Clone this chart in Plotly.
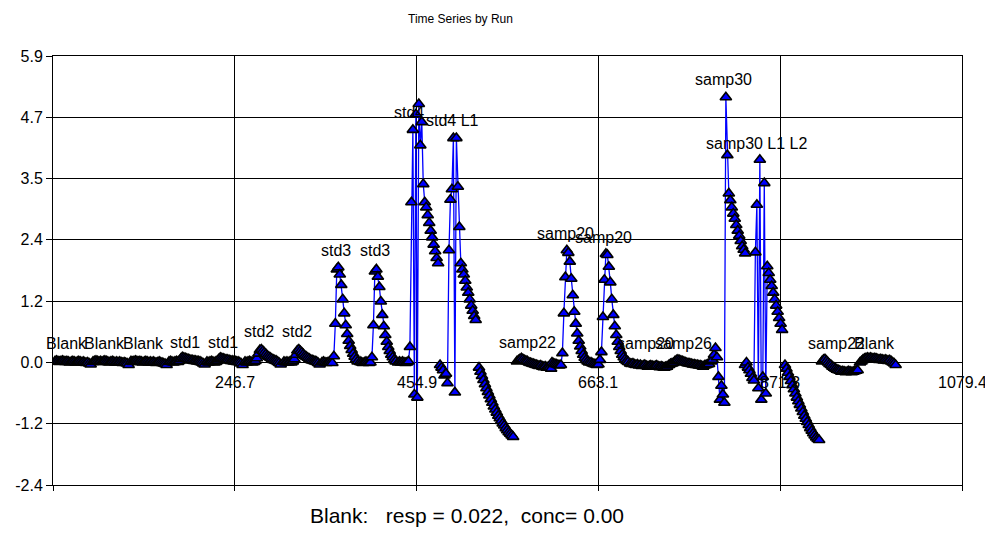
import plotly.graph_objects as go

# ---------------- data ----------------
sample_offsets = [0.0, 1.7, 3.4, 5.1, 6.8, 8.5, 10.2, 11.9, 13.6, 15.3, 17.0, 18.7, 20.4, 22.1,
                  23.8, 25.5, 27.2, 28.9, 30.6, 32.3, 34.0, 35.7, 37.4, 39.1, 40.8, 42.5, 44.2, 45.9]

run_start = [40.8, 84.3, 127.8, 171.3, 214.8, 258.4, 303.0, 346.5, 390.1, 433.6, 481.7,
             526.3, 569.8, 609.9, 654.6, 699.2, 743.9, 792.0, 830.9, 876.7, 919.1, 962.6]

run_names = ["Blank", "Blank", "Blank", "std1", "std1", "std2", "std2", "std3", "std3", "std4",
             "std4 L1", "", "samp22", "samp20", "samp20", "samp20", "samp26", "samp30",
             "samp30 L1 L2", "", "samp22", "Blank"]

r01 = [0.02, 0.03, 0.02, 0.01, 0.02, 0.03, 0.02, 0.01, 0.02, 0.01, 0.00, 0.01, 0.02, 0.01, 0.00, 0.01, 0.02, 0.01, 0.00, 0.01, 0.00, -0.01, 0.00, -0.02, -0.04]
r02 = [0.01, 0.02, 0.03, 0.02, 0.01, 0.02, 0.01, 0.02, 0.03, 0.02, 0.01, 0.00, 0.01, 0.02, 0.01, 0.00, 0.01, 0.00, 0.01, 0.00, -0.01, 0.00, -0.01, -0.02, -0.05]
r03 = [0.02, 0.01, 0.02, 0.03, 0.02, 0.01, 0.02, 0.01, 0.00, 0.01, 0.02, 0.01, 0.00, 0.01, 0.00, 0.01, 0.00, -0.01, 0.00, 0.01, 0.00, -0.01, -0.02, -0.03, -0.05]
r04 = [0.01, 0.02, 0.01, 0.00, 0.01, 0.02, 0.01, 0.03, 0.07, 0.10, 0.09, 0.08, 0.07, 0.06, 0.05, 0.04, 0.04, 0.03, 0.03, 0.02, 0.02, 0.01, 0.00, -0.02, -0.04]
r05 = [0.01, 0.00, 0.01, 0.02, 0.01, 0.00, 0.01, 0.03, 0.06, 0.09, 0.08, 0.07, 0.06, 0.05, 0.05, 0.04, 0.03, 0.03, 0.02, 0.02, 0.01, 0.01, 0.00, -0.02, -0.05]
r06 = [0.01, 0.00, 0.01, 0.02, 0.01, 0.00, 0.01, 0.03, 0.08, 0.17, 0.24, 0.25, 0.22, 0.19, 0.16, 0.13, 0.11, 0.09, 0.07, 0.05, 0.04, 0.03, 0.01, -0.01, -0.04]
r07 = [0.01, 0.00, 0.01, 0.00, 0.01, 0.00, 0.02, 0.06, 0.15, 0.23, 0.25, 0.22, 0.19, 0.16, 0.13, 0.11, 0.09, 0.07, 0.05, 0.04, 0.03, 0.02, 0.01, -0.01, -0.04]
r08 = [0.00, 0.01, 0.00, -0.01, 0.00, 0.01, 0.00, -0.01, 0.12, 0.75, 1.80, 1.84, 1.70, 1.50, 1.22, 0.95, 0.72, 0.55, 0.42, 0.32, 0.24, 0.17, 0.11, 0.06, 0.02]
r09 = [0.01, 0.00, -0.01, 0.00, 0.01, 0.00, -0.01, 0.00, 0.10, 0.72, 1.76, 1.80, 1.66, 1.46, 1.18, 0.92, 0.70, 0.53, 0.40, 0.30, 0.22, 0.15, 0.10, 0.05, 0.02]
r10 = [0.00, 0.01, 0.00, 0.01, 0.00, -0.01, 0.00, 0.02, 0.30, 3.10, 4.50, -0.62, 4.80, -0.68, 5.00, 4.20, 4.65, 3.45, 3.10, 3.00, 2.85, 2.70, 2.55, 2.42, 2.28, 2.15, 2.02, 1.92]
r11 = [-0.05, -0.10, -0.15, -0.25, -0.22, -0.40, 2.17, 3.15, 3.35, 4.34, -0.58, 4.34, 3.40, 2.62, 1.92, 1.80, 1.70, 1.58, 1.45, 1.35, 1.22, 1.10, 1.00, 0.90, 0.82]
r12 = [-0.10, -0.18, -0.26, -0.34, -0.42, -0.50, -0.57, -0.64, -0.71, -0.78, -0.85, -0.91, -0.97, -1.03, -1.08, -1.13, -1.18, -1.22, -1.27, -1.31, -1.35, -1.38, -1.41, -1.44]
r13 = [0.02, 0.04, 0.06, 0.08, 0.06, 0.04, 0.03, 0.02, 0.00, -0.01, -0.02, -0.03, -0.04, -0.05, -0.06, -0.07, -0.06, -0.08, -0.09, -0.08, -0.10, -0.09, -0.10, -0.12]
r14 = [0.00, -0.02, -0.03, -0.04, -0.05, -0.06, -0.05, 0.18, 0.95, 1.65, 2.17, 2.12, 1.95, 1.62, 1.30, 0.98, 0.75, 0.56, 0.42, 0.31, 0.22, 0.15, 0.09, 0.05, 0.02, 0.00]
r15 = [0.00, -0.02, -0.03, -0.04, -0.05, -0.04, 0.05, 0.20, 0.88, 1.60, 2.10, 2.08, 1.85, 1.55, 1.22, 0.92, 0.70, 0.53, 0.40, 0.30, 0.22, 0.15, 0.10, 0.06, 0.03, 0.01]
r16 = [-0.02, -0.03, -0.02, -0.04, -0.05, -0.04, -0.06, -0.05, -0.07, -0.06, -0.05, -0.07, -0.08, -0.07, -0.06, -0.07, -0.08, -0.07, -0.06, -0.08, -0.09, -0.08, -0.09, -0.10, -0.09, -0.08]
r17 = [-0.05, -0.03, -0.02, -0.01, 0.02, 0.04, 0.05, 0.04, 0.03, 0.02, 0.01, 0.00, -0.01, -0.02, -0.02, -0.03, -0.04, -0.04, -0.05, -0.05, -0.06, -0.06, -0.07, -0.08, -0.06, -0.05, -0.04, -0.03]
r18 = [0.02, 0.05, 0.15, 0.28, 0.10, -0.28, -0.72, -0.45, -0.62, -0.78, 5.13, 4.01, 3.27, 3.14, 3.00, 2.88, 2.78, 2.66, 2.55, 2.45, 2.35, 2.25, 2.18, 2.11]
r19 = [-0.05, 0.00, -0.10, -0.15, -0.22, -0.30, -0.35, 2.13, 3.05, -0.50, 3.92, -0.72, -0.28, 3.47, -0.60, 1.86, 1.73, 1.60, 1.48, 1.35, 1.22, 1.10, 0.98, 0.86, 0.75, 0.63]
r20 = [-0.05, -0.12, -0.20, -0.28, -0.36, -0.44, -0.52, -0.60, -0.68, -0.75, -0.82, -0.89, -0.96, -1.03, -1.09, -1.15, -1.21, -1.27, -1.32, -1.37, -1.41, -1.45, -1.48, -1.50]
r21 = [0.02, 0.05, 0.06, 0.03, 0.00, -0.03, -0.05, -0.08, -0.10, -0.12, -0.14, -0.15, -0.16, -0.18, -0.17, -0.18, -0.19, -0.18, -0.17, -0.18, -0.19, -0.18, -0.17, -0.16, -0.15]
r22 = [0.00, 0.02, 0.05, 0.07, 0.08, 0.09, 0.08, 0.09, 0.08, 0.07, 0.08, 0.07, 0.06, 0.05, 0.06, 0.05, 0.04, 0.05, 0.04, 0.03, 0.04, 0.02, 0.00, -0.02, -0.05]

run_values = [r01, r02, r03, r04, r05, r06, r07, r08, r09, r10, r11,
              r12, r13, r14, r15, r16, r17, r18, r19, r20, r21, r22]

# run label anchor points (data coordinates)
label_x = [54.5, 98.0, 141.6, 189.6, 233.2, 274.4, 317.9, 362.5, 407.2, 446.0, 496.5,
           None, 582.4, 625.9, 669.4, 717.5, 761.0, 806.8, 844.6, None, 936.2, 979.7]
label_y = [0.36, 0.36, 0.36, 0.39, 0.39, 0.59, 0.59, 2.17, 2.17, 4.83, 4.69,
           None, 0.38, 2.50, 2.41, 0.36, 0.36, 5.48, 4.24, None, 0.36, 0.36]

x_tick_vals = [38.5, 246.7, 454.9, 663.1, 871.3, 1079.4]
x_tick_text = ["", "246.7", "454.9", "663.1", "871.3", "1079.4"]
y_tick_vals = [-2.371, -1.1853, 0.0, 1.1857, 2.3714, 3.5571, 4.7429, 5.9286]
y_tick_text = ["-2.4", "-1.2", "0.0", "1.2", "2.4", "3.5", "4.7", "5.9"]

title_text = "Time Series by Run"
footer_text = "Blank:&nbsp;&nbsp; resp = 0.022,&nbsp; conc= 0.00"

# ---------------- figure ----------------
xs, ys = [], []
for start, vals in zip(run_start, run_values):
    for off, v in zip(sample_offsets, vals):
        xs.append(start + off)
        ys.append(v)
    xs.append(None)
    ys.append(None)

FONT = "Liberation Sans, Arial, sans-serif"

fig = go.Figure()
fig.add_trace(go.Scatter(
    x=xs, y=ys, mode="lines+markers", connectgaps=False,
    line=dict(color="#0000FF", width=1.3),
    marker=dict(symbol="triangle-up", size=10, color="#0000FF",
                line=dict(color="#000000", width=1.6)),
    showlegend=False, hoverinfo="x+y",
))

annotations = []
for name, lx, ly in zip(run_names, label_x, label_y):
    if not name:
        continue
    annotations.append(dict(x=lx, y=ly, xref="x", yref="y", text=name, showarrow=False,
                            xanchor="center", yanchor="middle",
                            font=dict(family=FONT, size=16, color="#000000")))
for tv, tt in zip(x_tick_vals, x_tick_text):
    if not tt:
        continue
    annotations.append(dict(x=tv, y=0, xref="x", yref="y", text=tt, showarrow=False,
                            xanchor="center", yanchor="top", yshift=-10,
                            font=dict(family=FONT, size=16, color="#000000")))
annotations.append(dict(x=0.448, y=1.086, xref="paper", yref="paper", text=title_text,
                        showarrow=False, xanchor="center", yanchor="middle",
                        font=dict(family=FONT, size=12, color="#000000")))
annotations.append(dict(x=0.455, y=-0.072, xref="paper", yref="paper", text=footer_text,
                        showarrow=False, xanchor="center", yanchor="middle",
                        font=dict(family=FONT, size=21, color="#000000")))

# the page body adds an 8px offset, so the figure is slightly smaller
fig.update_layout(
    width=985, height=529,
    margin=dict(l=45, r=31, t=48, b=52, autoexpand=False),
    paper_bgcolor="white", plot_bgcolor="white",
    font=dict(family=FONT, size=16, color="#000000"),
    annotations=annotations,
    xaxis=dict(range=[38.5, 1079.4], tickvals=x_tick_vals, showticklabels=False,
               showgrid=True, gridcolor="#000000", gridwidth=1,
               ticks="outside", ticklen=5, tickcolor="#000000",
               showline=True, linecolor="#000000", linewidth=1, mirror=True,
               zeroline=False, fixedrange=True, automargin=False),
    yaxis=dict(range=[-2.371, 5.9286], tickvals=y_tick_vals, ticktext=y_tick_text,
               showgrid=True, gridcolor="#000000", gridwidth=1,
               ticks="outside", ticklen=6, tickcolor="#000000",
               tickfont=dict(family=FONT, size=16, color="#000000"),
               showline=True, linecolor="#000000", linewidth=1, mirror=True,
               zeroline=False, fixedrange=True, automargin=False),
)

fig.write_html("out.html")
